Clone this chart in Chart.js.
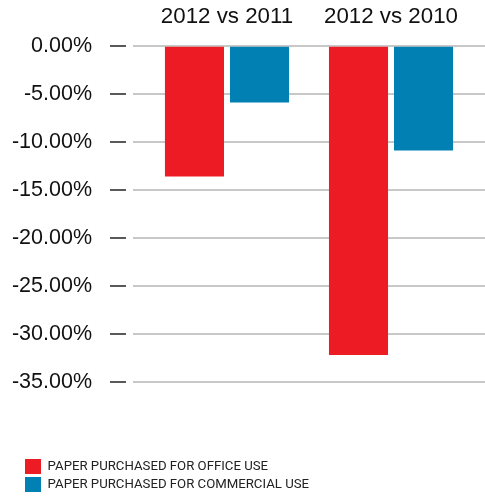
<!DOCTYPE html>
<html>
<head>
<meta charset="utf-8">
<style>
  html, body { margin: 0; padding: 0; background: #fff; }
  #wrap { width: 485px; height: 497px; }
</style>
<script src="https://cdn.jsdelivr.net/npm/chart.js@4/dist/chart.umd.min.js"></script>
</head>
<body>
<div id="wrap"><canvas id="c" width="485" height="497"></canvas></div>
<script>
const categories = ["2012 vs 2011", "2012 vs 2010"];
const officeUse = [-13.6, -32.2];
const commercialUse = [-5.9, -10.9];
const seriesNames = ["PAPER PURCHASED FOR OFFICE USE", "PAPER PURCHASED FOR COMMERCIAL USE"];
const yTicks = [0, -5, -10, -15, -20, -25, -30, -35];

const RED = "#ED1C24";
const BLUE = "#0080B3";

// let the y-axis labels use the full left margin (avoid label clipping)
const widenYAxis = {
  id: "widenYAxis",
  afterLayout(c) {
    const y = c.scales.y;
    y.left = 0;
    y.width = y.right;
  }
};

const ctx = document.getElementById("c");
const chart = new Chart(ctx, {
  type: "bar",
  data: {
    datasets: [
      { label: seriesNames[0], data: categories.map((c, i) => ({ x: i, y: officeUse[i] })), backgroundColor: RED, borderWidth: 0 },
      { label: seriesNames[1], data: categories.map((c, i) => ({ x: i, y: commercialUse[i] })), backgroundColor: BLUE, borderWidth: 0 }
    ]
  },
  plugins: [widenYAxis],
  options: {
    responsive: false,
    animation: false,
    devicePixelRatio: 1,
    categoryPercentage: 0.793,
    barPercentage: 0.908,
    layout: { padding: { left: 22, right: 0, top: 0, bottom: -5 } },
    plugins: {
      tooltip: { enabled: false },
      legend: {
        position: "bottom",
        align: "start",
        title: { display: true, text: "", padding: { top: 73, bottom: 0 }, font: { size: 1, lineHeight: 1 } },
        labels: {
          boxWidth: 16,
          boxHeight: 15,
          padding: 3,
          color: "#222",
          font: { family: "Roboto, 'Liberation Sans', sans-serif", size: 13.2 }
        }
      }
    },
    scales: {
      x: {
        type: "linear",
        position: "top",
        min: -0.573,
        max: 1.573,
        offset: false,
        grid: { display: false, drawTicks: false },
        border: { display: false },
        afterBuildTicks: (s) => { s.ticks = categories.map((c, i) => ({ value: i })); },
        afterFit: (s) => { s.height = s.height - 13; },
        ticks: {
          padding: 16,
          color: "#111",
          font: { family: "'Liberation Sans', Arial, sans-serif", size: 22.3 },
          callback: (v) => categories[v]
        }
      },
      y: {
        min: -35,
        max: 0,
        afterBuildTicks: (s) => { s.ticks = yTicks.map(v => ({ value: v })); },
        afterFit: (s) => { s.width = 111; s.paddingTop = 0; s.paddingBottom = 0; },
        border: { display: false },
        grid: {
          color: "#c8c8c8",
          lineWidth: 2,
          tickColor: "#222",
          tickWidth: 1.5,
          tickLength: 23,
          tickBorderDash: [16, 60]
        },
        ticks: {
          padding: 18,
          color: "#111",
          font: { family: "'Liberation Sans', Arial, sans-serif", size: 21.5 },
          callback: (v) => v.toFixed(2) + "%"
        }
      }
    }
  }
});
</script>
</body>
</html>
